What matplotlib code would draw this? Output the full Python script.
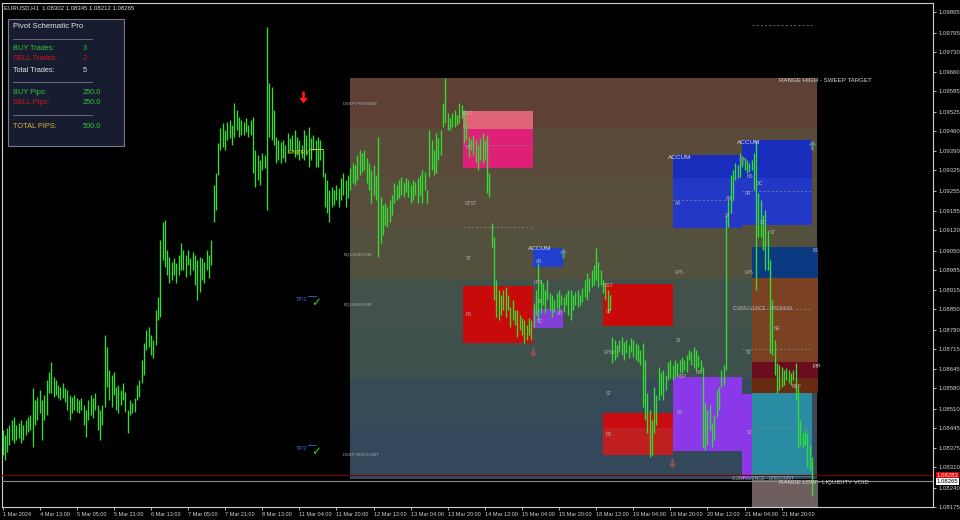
import matplotlib
matplotlib.use("Agg")
import matplotlib.pyplot as plt
from matplotlib.path import Path
from matplotlib.patches import Rectangle
import matplotlib.transforms as mtransforms

plt.rcParams['font.family'] = ['Liberation Sans', 'DejaVu Sans']

# ---------------- data ----------------
symbol_info = "EURUSD,H1  1.08302 1.08345 1.08212 1.08265"

highs = [
    1.08438, 1.08421, 1.08445, 1.08455, 1.08472, 1.08482, 1.08455, 1.08462, 1.08472, 1.08455,
    1.08472, 1.08482, 1.08489, 1.08581, 1.08540, 1.08551, 1.08575, 1.08540, 1.08557, 1.08609,
    1.08636, 1.08670, 1.08619, 1.08609, 1.08592, 1.08585, 1.08598, 1.08581, 1.08575, 1.08557,
    1.08551, 1.08557, 1.08547, 1.08540, 1.08547, 1.08523, 1.08506, 1.08540, 1.08557, 1.08547,
    1.08564, 1.08523, 1.08506, 1.08523, 1.08762, 1.08721, 1.08643, 1.08626, 1.08636, 1.08585,
    1.08592, 1.08575, 1.08598, 1.08568, 1.08506, 1.08540, 1.08530, 1.08547, 1.08592, 1.08609,
    1.08677, 1.08735, 1.08779, 1.08790, 1.08762, 1.08745, 1.08848, 1.08892, 1.09087, 1.09148,
    1.09155, 1.09052, 1.09029, 1.09012, 1.09025, 1.09008, 1.09035, 1.09076, 1.09052, 1.09035,
    1.09052, 1.09025, 1.09046, 1.09035, 1.09018, 1.09029, 1.09025, 1.09012, 1.09052, 1.09035,
    1.09087, 1.09274, 1.09315, 1.09418, 1.09469, 1.09486, 1.09462, 1.09489, 1.09496, 1.09479,
    1.09554, 1.09530, 1.09507, 1.09496, 1.09489, 1.09503, 1.09479, 1.09496, 1.09507, 1.09394,
    1.09377, 1.09360, 1.09384, 1.09377, 1.09814, 1.09623, 1.09609, 1.09530, 1.09438, 1.09428,
    1.09421, 1.09428, 1.09411, 1.09452, 1.09435, 1.09445, 1.09462, 1.09438, 1.09428, 1.09411,
    1.09462, 1.09445, 1.09472, 1.09435, 1.09445, 1.09428, 1.09438, 1.09428, 1.09394, 1.09315,
    1.09291, 1.09257, 1.09268, 1.09257, 1.09274, 1.09264, 1.09298, 1.09315, 1.09291, 1.09309,
    1.09332, 1.09350, 1.09343, 1.09377, 1.09394, 1.09384, 1.09394, 1.09367, 1.09350, 1.09326,
    1.09343, 1.09309, 1.09438, 1.09233, 1.09206, 1.09213, 1.09199, 1.09223, 1.09240, 1.09281,
    1.09274, 1.09291, 1.09302, 1.09285, 1.09298, 1.09291, 1.09274, 1.09291, 1.09285, 1.09298,
    1.09309, 1.09326, 1.09319, 1.09257, 1.09462, 1.09428, 1.09394, 1.09452, 1.09435, 1.09462,
    1.09554, 1.09640, 1.09520, 1.09503, 1.09520, 1.09530, 1.09513, 1.09554, 1.09548, 1.09530,
    1.09479, 1.09438, 1.09428, 1.09445, 1.09428, 1.09411, 1.09435, 1.09452, 1.09428, 1.09445,
    1.09315, 1.09145, 1.09097, 1.08950, 1.08916, 1.08899, 1.08916, 1.08926, 1.08899, 1.08858,
    1.08882, 1.08848, 1.08848, 1.08831, 1.08820, 1.08814, 1.08796, 1.08820, 1.08814, 1.08872,
    1.08916, 1.09008, 1.08950, 1.08940, 1.08916, 1.08950, 1.08906, 1.08899, 1.08882, 1.08906,
    1.08916, 1.08899, 1.08892, 1.08906, 1.08916, 1.08916, 1.08899, 1.08909, 1.08916, 1.08899,
    1.08923, 1.08950, 1.08974, 1.08957, 1.08984, 1.09001, 1.09059, 1.09012, 1.08984, 1.08950,
    1.08940, 1.08916, 1.08899, 1.08755, 1.08745, 1.08728, 1.08745, 1.08755, 1.08738, 1.08745,
    1.08728, 1.08752, 1.08745, 1.08735, 1.08728, 1.08711, 1.08735, 1.08677, 1.08564, 1.08506,
    1.08472, 1.08585, 1.08557, 1.08653, 1.08636, 1.08643, 1.08626, 1.08670, 1.08677, 1.08660,
    1.08677, 1.08667, 1.08677, 1.08687, 1.08677, 1.08694, 1.08711, 1.08704, 1.08721, 1.08711,
    1.08694, 1.08677, 1.08653, 1.08530, 1.08506, 1.08523, 1.08462, 1.08489, 1.08575, 1.08585,
    1.08643, 1.08660, 1.09172, 1.09223, 1.09309, 1.09326, 1.09350, 1.09343, 1.09384, 1.09370,
    1.09367, 1.09360, 1.09350, 1.09360, 1.09384, 1.09428, 1.09247, 1.09223, 1.09172, 1.09189,
    1.09121, 1.09018, 1.08882, 1.08745, 1.08667, 1.08660, 1.08653, 1.08643, 1.08650, 1.08643,
    1.08633, 1.08643, 1.08667, 1.08585, 1.08472, 1.08428, 1.08438, 1.08428, 1.08387, 1.08345,
]

lows = [
    1.08353, 1.08336, 1.08363, 1.08387, 1.08404, 1.08394, 1.08404, 1.08411, 1.08394, 1.08404,
    1.08421, 1.08431, 1.08438, 1.08380, 1.08455, 1.08472, 1.08496, 1.08404, 1.08472, 1.08489,
    1.08564, 1.08564, 1.08551, 1.08557, 1.08547, 1.08540, 1.08547, 1.08534, 1.08506, 1.08472,
    1.08496, 1.08506, 1.08499, 1.08496, 1.08506, 1.08455, 1.08414, 1.08472, 1.08489, 1.08479,
    1.08506, 1.08438, 1.08404, 1.08455, 1.08517, 1.08585, 1.08540, 1.08517, 1.08557, 1.08506,
    1.08496, 1.08523, 1.08540, 1.08499, 1.08428, 1.08489, 1.08496, 1.08499, 1.08540, 1.08551,
    1.08598, 1.08626, 1.08711, 1.08721, 1.08694, 1.08684, 1.08728, 1.08814, 1.08824, 1.09018,
    1.08994, 1.08967, 1.08940, 1.08950, 1.08967, 1.08940, 1.08967, 1.08984, 1.08984, 1.08960,
    1.09001, 1.08967, 1.08984, 1.08933, 1.08882, 1.08909, 1.08950, 1.08940, 1.08984, 1.08957,
    1.09001, 1.09148, 1.09189, 1.09309, 1.09394, 1.09404, 1.09394, 1.09428, 1.09435, 1.09411,
    1.09438, 1.09462, 1.09438, 1.09445, 1.09445, 1.09455, 1.09438, 1.09445, 1.09315, 1.09268,
    1.09291, 1.09274, 1.09326, 1.09332, 1.09189, 1.09438, 1.09428, 1.09411, 1.09350, 1.09360,
    1.09350, 1.09367, 1.09353, 1.09384, 1.09394, 1.09387, 1.09370, 1.09377, 1.09360, 1.09367,
    1.09360, 1.09377, 1.09336, 1.09360, 1.09394, 1.09336, 1.09336, 1.09360, 1.09302, 1.09199,
    1.09179, 1.09148, 1.09199, 1.09206, 1.09223, 1.09199, 1.09223, 1.09240, 1.09199, 1.09230,
    1.09257, 1.09281, 1.09274, 1.09291, 1.09309, 1.09319, 1.09326, 1.09281, 1.09257, 1.09213,
    1.09240, 1.09223, 1.09029, 1.09076, 1.09104, 1.09138, 1.09131, 1.09148, 1.09172, 1.09213,
    1.09223, 1.09230, 1.09240, 1.09233, 1.09251, 1.09233, 1.09213, 1.09223, 1.09240, 1.09213,
    1.09240, 1.09213, 1.09257, 1.09213, 1.09302, 1.09326, 1.09309, 1.09315, 1.09360, 1.09377,
    1.09472, 1.09486, 1.09462, 1.09462, 1.09472, 1.09472, 1.09479, 1.09486, 1.09503, 1.09418,
    1.09428, 1.09370, 1.09394, 1.09377, 1.09353, 1.09326, 1.09360, 1.09350, 1.09360, 1.09247,
    1.09233, 1.09063, 1.08882, 1.08824, 1.08814, 1.08831, 1.08848, 1.08824, 1.08848, 1.08790,
    1.08814, 1.08796, 1.08755, 1.08779, 1.08762, 1.08735, 1.08745, 1.08762, 1.08745, 1.08790,
    1.08831, 1.08814, 1.08837, 1.08865, 1.08837, 1.08882, 1.08848, 1.08824, 1.08841, 1.08854,
    1.08848, 1.08865, 1.08841, 1.08865, 1.08831, 1.08814, 1.08848, 1.08865, 1.08858, 1.08865,
    1.08875, 1.08892, 1.08882, 1.08909, 1.08926, 1.08933, 1.08950, 1.08926, 1.08933, 1.08906,
    1.08882, 1.08837, 1.08848, 1.08667, 1.08677, 1.08687, 1.08704, 1.08694, 1.08677, 1.08701,
    1.08684, 1.08704, 1.08687, 1.08677, 1.08670, 1.08660, 1.08517, 1.08472, 1.08428, 1.08346,
    1.08353, 1.08428, 1.08455, 1.08540, 1.08557, 1.08540, 1.08575, 1.08609, 1.08616, 1.08609,
    1.08619, 1.08626, 1.08636, 1.08633, 1.08643, 1.08636, 1.08677, 1.08660, 1.08650, 1.08643,
    1.08653, 1.08636, 1.08380, 1.08370, 1.08387, 1.08438, 1.08380, 1.08404, 1.08482, 1.08506,
    1.08585, 1.08592, 1.08643, 1.09131, 1.09179, 1.09223, 1.09291, 1.09298, 1.09302, 1.09336,
    1.09326, 1.09315, 1.09319, 1.09326, 1.09257, 1.08916, 1.09097, 1.09097, 1.09052, 1.08984,
    1.08984, 1.08701, 1.08694, 1.08626, 1.08564, 1.08575, 1.08585, 1.08592, 1.08609, 1.08598,
    1.08592, 1.08609, 1.08540, 1.08380, 1.08387, 1.08380, 1.08387, 1.08312, 1.08301, 1.08212,
]

time_labels = ["1 Mar 2024", "4 Mar 13:00", "5 Mar 05:00", "5 Mar 21:00", "6 Mar 13:00",
               "7 Mar 05:00", "7 Mar 21:00", "8 Mar 13:00", "11 Mar 04:00", "11 Mar 20:00",
               "12 Mar 12:00", "13 Mar 04:00", "13 Mar 20:00", "14 Mar 12:00", "15 Mar 04:00",
               "15 Mar 20:00", "18 Mar 12:00", "19 Mar 04:00", "19 Mar 20:00", "20 Mar 12:00",
               "21 Mar 04:00", "21 Mar 20:00"]
bars_per_label = 16

price_ticks = [1.09865, 1.09795, 1.09730, 1.09660, 1.09595, 1.09525, 1.09460, 1.09390,
               1.09325, 1.09255, 1.09185, 1.09120, 1.09050, 1.08985, 1.08915, 1.08850,
               1.08780, 1.08715, 1.08645, 1.08580, 1.08510, 1.08445, 1.08375, 1.08310,
               1.08240, 1.08175]
bid_price = 1.08265
ask_price = 1.08283

# schematic range
range_start, range_end = 150, 351.2
range_high, range_low = 1.09640, 1.08270
band_colors = ['#5e4034', '#5a4a3a', '#584e3c', '#54503e', '#42524a', '#3e504c', '#364a58', '#34485c']
band_names = ["DEEP PREMIUM", "", "", "EQUILIBRIUM", "EQUILIBRIUM", "", "", "DEEP DISCOUNT"]

# schematic boxes
zone_x0 = [198.6, 198.6, 228.8, 198.6, 228.8, 258.9, 258.9, 258.9, 289.1, 318.9, 323.2,
           289.1, 289.1, 318.9, 318.9, 323.2, 323.2, 323.2, 323.2, 323.2]
zone_x1 = [228.8, 228.8, 241.7, 228.8, 241.7, 289.1, 289.1, 289.1, 318.9, 323.2, 349.1,
           318.9, 318.9, 349.1, 349.1, 351.7, 351.7, 351.7, 351.7, 351.7]
zone_top = [1.09527, 1.09466, 1.09059, 1.08930, 1.08851, 1.08936, 1.08496, 1.08445, 1.08619,
            1.08561, 1.08564, 1.09377, 1.09298, 1.09428, 1.09298, 1.09063, 1.08957, 1.08670,
            1.08616, 1.08267]
zone_bottom = [1.09466, 1.09332, 1.08994, 1.08735, 1.08786, 1.08793, 1.08445, 1.08353, 1.08366,
               1.08274, 1.08277, 1.09298, 1.09128, 1.09298, 1.09138, 1.08957, 1.08670, 1.08616,
               1.08564, 1.08100]
zone_colors = ['#e06478', '#de2078', '#2040d0', '#c80a0a', '#8040d8', '#c80a0a', '#c80c10',
               '#c02020', '#8a38e8', '#8a38e8', '#2a8ca2', '#1a2ebe', '#2438c8', '#1a2ebe',
               '#2438c8', '#0c3a82', '#7a4222', '#6a0c1e', '#682a10', '#6e5e5e']

# schematic labels: (text, bar index, price, size)
zone_texts = [
    ("DIST", 198.6, 1.09520, 3.4), ("UT", 199.9, 1.09401, 3.4), ("UTST", 199.4, 1.09210, 3.4),
    ("ST", 199.9, 1.09025, 3.4), ("ACCUM", 226.6, 1.09058, 4.6), ("AR", 230.0, 1.09012, 3.4),
    ("LPS", 229.2, 1.08940, 3.4), ("ST", 230.5, 1.08878, 3.4), ("SC", 230.5, 1.08807, 3.4),
    ("AR", 239.1, 1.08837, 3.4), ("PS", 199.9, 1.08834, 3.4), ("DIST", 258.9, 1.08930, 3.4),
    ("UT", 260.2, 1.08841, 3.4), ("LPSY", 259.4, 1.08704, 3.4), ("ST", 260.2, 1.08564, 3.4),
    ("PS", 260.2, 1.08424, 3.4), ("LPS", 290.0, 1.08977, 3.4), ("LPS", 320.2, 1.08977, 3.4),
    ("ST", 290.4, 1.08742, 3.4), ("ST", 320.6, 1.08701, 3.4), ("NE", 332.7, 1.08786, 3.4),
    ("MSP", 290.8, 1.08622, 3.4), ("NS", 299.1, 1.08633, 3.4), ("PP", 349.1, 1.08656, 4.6),
    ("NBP", 340.5, 1.08585, 3.4), ("PS", 290.8, 1.08499, 3.4), ("SC", 321.0, 1.08428, 3.4),
    ("ACCUM", 287.0, 1.09367, 4.6), ("ACCUM", 316.7, 1.09421, 4.6), ("AR", 290.0, 1.09213, 3.4),
    ("AR", 320.2, 1.09244, 3.4), ("NS", 321.0, 1.09305, 3.4), ("SC", 325.4, 1.09281, 3.4),
    ("AR", 312.0, 1.09227, 3.4), ("ST", 311.6, 1.09169, 3.4), ("ST", 326.6, 1.09145, 3.4),
    ("ST", 331.0, 1.09111, 3.4), ("B1", 349.5, 1.09052, 3.4),
    ("CONFLUENCE - PREMIUM", 315.0, 1.08854, 3.4), ("CONFLUENCE - DISCOUNT", 314.6, 1.08274, 3.4),
    ("RANGE HIGH - SWEEP TARGET", 334.8, 1.09633, 4.4),
    ("RANGE LOW - LIQUIDITY VOID", 334.8, 1.08257, 4.4),
]

# dashed reference levels (x0, x1, price)
level_x0 = [198.6, 198.6, 289.1, 318.9, 315.0, 318.9, 324.5, 323.2]
level_x1 = [228.8, 228.8, 315.5, 349.1, 348.5, 348.5, 348.5, 349.1]
level_price = [1.09411, 1.09131, 1.09223, 1.09254, 1.08851, 1.08715, 1.08445, 1.09820]

# signal arrows (bar index, price)
up_arrows_x = [241.7, 318.9, 349.1]
up_arrows_y = [1.09042, 1.09360, 1.09411]
down_arrows_x = [228.8, 288.7]
down_arrows_y = [1.08704, 1.08325]
sell_signal_x, sell_signal_y = 129.6, 1.09575
entry_x, entry_y = 123.5, 1.09385
tp_names = ["TP1", "TP2"]
tp_x = [126.7, 126.7]
tp_y = [1.08882, 1.08376]

panel_title = "Pivot Schematic Pro"
panel_labels = ["BUY Trades:", "SELL Trades:", "Total Trades:", "BUY Pips:", "SELL Pips:", "TOTAL PIPS:"]
panel_values = ["3", "2", "5", "250.0", "250.0", "500.0"]

# ---------------- drawing ----------------
W, H = 960, 520
fig = plt.figure(figsize=(W / 100, H / 100), dpi=100, facecolor='black')
ax = fig.add_axes([2 / W, 13 / H, 931 / W, 504 / H])
ax.set_facecolor('black')

n = len(highs)
xs = list(range(n))
ax.set_xlim(-0.22, 401.25)
ax.set_ylim(1.08175, 1.09896)

# range bands
band_h = (range_high - range_low) / len(band_colors)
for k, c in enumerate(band_colors):
    top = range_high - k * band_h
    ax.add_patch(Rectangle((range_start, top - band_h), range_end - range_start, band_h,
                           facecolor=c, edgecolor='none', zorder=1))
    if band_names[k]:
        ax.text(range_start - 3.1, top - band_h * 0.52, band_names[k], fontsize=3.2,
                color='#a8a8a8', ha='left', va='center', zorder=6)

# boxes
for x0, x1, t, b, c in zip(zone_x0, zone_x1, zone_top, zone_bottom, zone_colors):
    ax.add_patch(Rectangle((x0, b), x1 - x0, t - b, facecolor=c, edgecolor='none', zorder=2))

for x0, x1, p in zip(level_x0, level_x1, level_price):
    ax.plot([x0, x1], [p, p], color='#8a8a8a', lw=0.5, ls=(0, (3, 3)), zorder=3)

# price bars
ax.vlines(xs, lows, highs, colors='#34dc34', linewidth=0.95, zorder=5)

# bid / ask lines
ax.axhline(ask_price, color='#6a0808', lw=0.9, zorder=4)
ax.axhline(bid_price, color='#8c8c8c', lw=0.8, zorder=4)

for txt, x, y, s in zone_texts:
    col = '#d8d8d8' if s > 4 else '#b4b4b4'
    ax.text(x, y, txt, fontsize=s, color=col, ha='left', va='center', zorder=6)

# arrows as markers
up_path = Path([(-0.22, -1.0), (0.22, -1.0), (0.22, 0.05), (0.75, 0.05), (0.0, 1.0),
                (-0.75, 0.05), (-0.22, 0.05), (-0.22, -1.0)], closed=True)
down_path = Path([(x, -y) for x, y in up_path.vertices], closed=True)
ax.plot(up_arrows_x, up_arrows_y, ls='none', marker=up_path, markersize=7,
        color='#5e8c80', mec='none', zorder=7)
ax.plot(down_arrows_x, down_arrows_y, ls='none', marker=down_path, markersize=7,
        color='#8e5454', mec='none', zorder=7)
ax.plot([sell_signal_x], [sell_signal_y], ls='none', marker=down_path, markersize=8.5,
        color='#ff1a1a', mec='none', zorder=7)

ax.text(entry_x, entry_y, "ENTRY", fontsize=4.6, color='#d8c830', ha='left', va='center', zorder=8)
ax.plot([entry_x + 9.2, entry_x + 14.8], [entry_y + 0.00012, entry_y + 0.00012],
        color='#d8c830', lw=0.7, zorder=8)
for name, x, y in zip(tp_names, tp_x, tp_y):
    ax.text(x, y, name, fontsize=4.6, color='#3a66d8', ha='left', va='center', zorder=7)
    ax.plot([x + 5.0, x + 8.5], [y + 0.00012, y + 0.00012], color='#3a66d8', lw=0.6, zorder=7)
    ax.text(x + 6.3, y - 0.00010, "\u2713", fontsize=8.5, color='#22dd22', ha='left',
            va='center', family=['DejaVu Sans'], fontweight='bold', zorder=7)

ax.text(0.0025, 0.996, symbol_info, transform=ax.transAxes, fontsize=4.3, color='#e0e0e0',
        ha='left', va='top', zorder=8)

# axes styling
for sp in ax.spines.values():
    sp.set_color('#d0d0d0')
    sp.set_linewidth(0.8)
ax.yaxis.tick_right()
ax.set_yticks(price_ticks)
ax.set_yticklabels([f"{p:.5f}" for p in price_ticks])
ax.set_xticks([k * bars_per_label for k in range(len(time_labels))])
ax.set_xticklabels(time_labels)
for lbl in ax.get_xticklabels():
    lbl.set_horizontalalignment('left')
ax.tick_params(axis='both', colors='#d0d0d0', labelsize=4.3, length=2.5, width=0.6, pad=1.2)
ax.tick_params(axis='x', labelsize=4.0)

# bid / ask boxes on price scale
trans = mtransforms.blended_transform_factory(ax.transAxes, ax.transData)
ax.text(1.004, ask_price, f"{ask_price:.5f}", transform=trans, fontsize=4.3, color='white',
        ha='left', va='center', zorder=10, clip_on=False,
        bbox=dict(boxstyle='square,pad=0.15', fc='#e00000', ec='none'))
ax.text(1.004, bid_price - 0.00004, f"{bid_price:.5f}", transform=trans, fontsize=4.3,
        color='black', ha='left', va='center', zorder=10, clip_on=False,
        bbox=dict(boxstyle='square,pad=0.15', fc='white', ec='none'))

# info panel (figure pixel coords from top-left)
def fx(x):
    return x / W

def fy(y):
    return 1 - y / H

fig.patches.append(Rectangle((fx(8), fy(146)), 116 / W, 127 / H, transform=fig.transFigure,
                             facecolor='#181c30', edgecolor='#7a7a86', lw=0.8, zorder=20))
fig.text(fx(13), fy(27), panel_title, fontsize=5.6, color='#e6e6e6', ha='left', va='center', zorder=21)
label_cols = ['#30c830', '#d01818', '#e6e6e6', '#30c830', '#d01818', '#d8b838']
value_cols = ['#30c830', '#d01818', '#e6e6e6', '#30c830', '#30c830', '#30c830']
rows_y = [48, 59, 71, 92, 103, 126]
for lab, val, lc, vc, yy in zip(panel_labels, panel_values, label_cols, value_cols, rows_y):
    fig.text(fx(13), fy(yy), lab, fontsize=5.3, color=lc, ha='left', va='center', zorder=21)
    fig.text(fx(83), fy(yy), val, fontsize=5.3, color=vc, ha='left', va='center', zorder=21)
for yy in [39, 82, 115]:
    fig.lines.append(plt.Line2D([fx(13), fx(92)], [fy(yy), fy(yy)], transform=fig.transFigure,
                                color='#6a6a78', lw=0.7, zorder=21))

fig.savefig("out.png", dpi=100, facecolor='black')
